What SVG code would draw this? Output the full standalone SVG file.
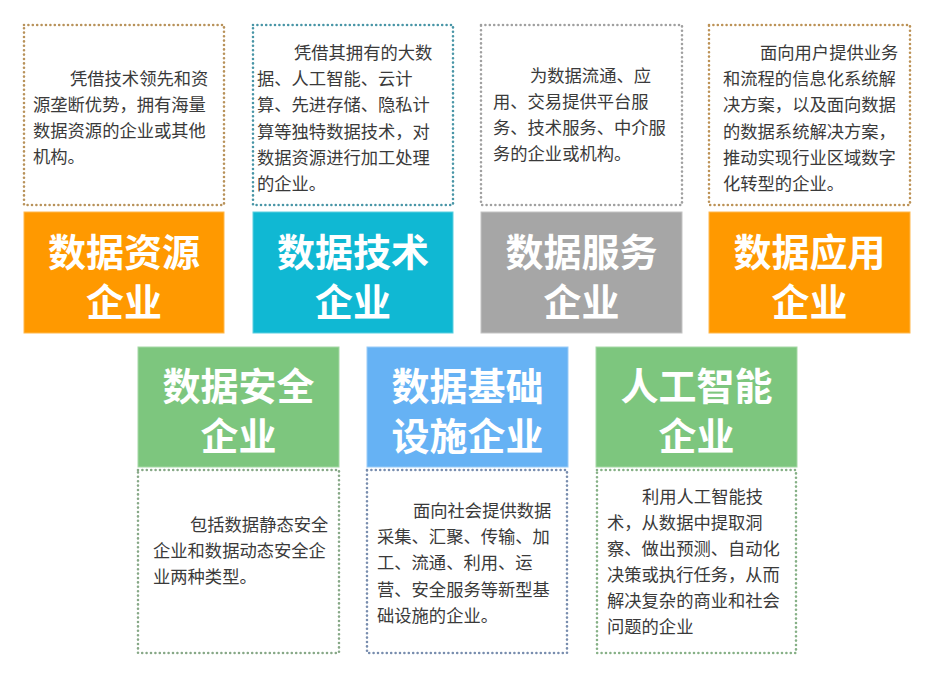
<svg xmlns="http://www.w3.org/2000/svg" width="934" height="678" viewBox="0 0 934 678">
<style>
.bg{fill:#ffffff}
.dot{fill:#ffffff;stroke-width:2.6;stroke-dasharray:0 4.4;stroke-linecap:round}
.title{font-family:"Noto Sans CJK SC","Noto Sans",sans-serif;font-weight:bold;font-size:38px;fill:#ffffff;text-anchor:middle;dominant-baseline:central}
.desc{font-family:"Noto Sans CJK SC","Noto Sans",sans-serif;font-size:17.3px;fill:#3a3a3a;dominant-baseline:central}
</style>
<rect class="bg" x="0" y="0" width="934" height="678"/>
<g id="connectors"></g>

<g id="node-resource">
<rect class="dot" x="24" y="25" width="200" height="180" stroke="#B8925A"/>
<text class="desc"><tspan x="70" y="77">凭借技术领先和资</tspan><tspan x="33" y="103">源垄断优势，拥有海量</tspan><tspan x="33" y="129">数据资源的企业或其他</tspan><tspan x="33" y="155">机构。</tspan></text>
<rect x="24" y="212" width="200" height="121" fill="#FF9900" stroke="#FFB84D" stroke-width="1"/>
<text class="title"><tspan x="124" y="249">数据资源</tspan><tspan x="124" y="299">企业</tspan></text>
</g>

<g id="node-tech">
<rect class="dot" x="253" y="25" width="200" height="180" stroke="#4895A6"/>
<text class="desc"><tspan x="294" y="51">凭借其拥有的大数</tspan><tspan x="257" y="77">据、人工智能、云计</tspan><tspan x="257" y="103">算、先进存储、隐私计</tspan><tspan x="257" y="130">算等独特数据技术，对</tspan><tspan x="257" y="156">数据资源进行加工处理</tspan><tspan x="257" y="182">的企业。</tspan></text>
<rect x="253" y="212" width="200" height="121" fill="#10B8D3" stroke="#5ACFE0" stroke-width="1"/>
<text class="title"><tspan x="353" y="249">数据技术</tspan><tspan x="353" y="299">企业</tspan></text>
</g>

<g id="node-service">
<rect class="dot" x="481" y="25" width="201" height="180" stroke="#A0A0A0"/>
<text class="desc"><tspan x="530" y="74">为数据流通、应</tspan><tspan x="493" y="100">用、交易提供平台服</tspan><tspan x="493" y="126">务、技术服务、中介服</tspan><tspan x="493" y="152">务的企业或机构。</tspan></text>
<rect x="481" y="212" width="201" height="121" fill="#A6A6A6" stroke="#C4C4C4" stroke-width="1"/>
<text class="title"><tspan x="581.5" y="249">数据服务</tspan><tspan x="581.5" y="299">企业</tspan></text>
</g>

<g id="node-application">
<rect class="dot" x="709" y="25" width="201" height="180" stroke="#BC9256"/>
<text class="desc"><tspan x="760" y="51">面向用户提供业务</tspan><tspan x="723" y="77">和流程的信息化系统解</tspan><tspan x="723" y="103">决方案，以及面向数据</tspan><tspan x="723" y="130">的数据系统解决方案，</tspan><tspan x="723" y="156">推动实现行业区域数字</tspan><tspan x="723" y="182">化转型的企业。</tspan></text>
<rect x="709" y="212" width="201" height="121" fill="#FF9900" stroke="#FFB84D" stroke-width="1"/>
<text class="title"><tspan x="809.5" y="249">数据应用</tspan><tspan x="809.5" y="299">企业</tspan></text>
</g>

<g id="node-security">
<rect x="138" y="347" width="201" height="120" fill="#7DC67E" stroke="#A5D8A5" stroke-width="1"/>
<text class="title"><tspan x="238.5" y="383">数据安全</tspan><tspan x="238.5" y="433">企业</tspan></text>
<rect class="dot" x="138" y="470" width="201" height="183" stroke="#87A887"/>
<text class="desc"><tspan x="190" y="523">包括数据静态安全</tspan><tspan x="153" y="549">企业和数据动态安全企</tspan><tspan x="153" y="575">业两种类型。</tspan></text>
</g>

<g id="node-infrastructure">
<rect x="367" y="347" width="201" height="120" fill="#66B2F4" stroke="#99CBF7" stroke-width="1"/>
<text class="title"><tspan x="467.5" y="383">数据基础</tspan><tspan x="467.5" y="433">设施企业</tspan></text>
<rect class="dot" x="367" y="470" width="200" height="183" stroke="#788DAE"/>
<text class="desc"><tspan x="413" y="509">面向社会提供数据</tspan><tspan x="377" y="535">采集、汇聚、传输、加</tspan><tspan x="377" y="561">工、流通、利用、运</tspan><tspan x="377" y="588">营、安全服务等新型基</tspan><tspan x="377" y="614">础设施的企业。</tspan></text>
</g>

<g id="node-ai">
<rect x="596" y="347" width="201" height="120" fill="#7DC67E" stroke="#A5D8A5" stroke-width="1"/>
<text class="title"><tspan x="696.5" y="383">人工智能</tspan><tspan x="696.5" y="433">企业</tspan></text>
<rect class="dot" x="597" y="470" width="199" height="183" stroke="#86B086"/>
<text class="desc"><tspan x="642" y="495">利用人工智能技</tspan><tspan x="607" y="521">术，从数据中提取洞</tspan><tspan x="607" y="547">察、做出预测、自动化</tspan><tspan x="607" y="573">决策或执行任务，从而</tspan><tspan x="607" y="599">解决复杂的商业和社会</tspan><tspan x="607" y="625">问题的企业</tspan></text>
</g>
</svg>
